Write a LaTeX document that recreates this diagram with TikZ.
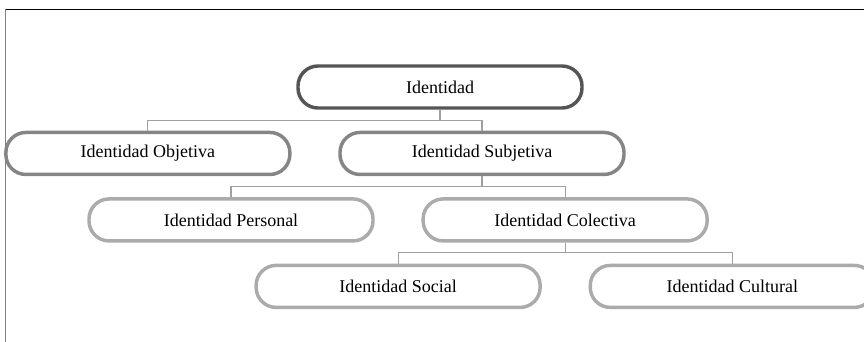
\documentclass[tikz,border=0pt]{standalone}
\usepackage{fontspec}
\setmainfont{Liberation Serif}
\usepackage{xcolor}
\usepackage{tikz}
\usetikzlibrary{positioning, calc}
\definecolor{rootgray}{HTML}{555555}
\definecolor{midgray}{HTML}{858585}
\definecolor{leafgray}{HTML}{ABABAB}
\definecolor{linkgray}{HTML}{A0A0A0}
\tikzstyle{idbox} = [rectangle, rounded corners=15pt, minimum width=213pt, minimum height=31.5pt, text centered, line width=2.6pt, fill=white, font=\fontsize{13.5}{16}\selectfont]
\tikzstyle{rootbox} = [idbox, draw=rootgray]
\tikzstyle{midbox} = [idbox, draw=midgray]
\tikzstyle{leafbox} = [idbox, draw=leafgray]
\tikzstyle{link} = [draw=linkgray, line width=0.8pt]

\begin{document}
\begin{tikzpicture}[node distance=15.75pt and 35pt]
\useasboundingbox (0,0) rectangle (648pt,-256.5pt);

% Frame
\draw [black, line width=1.1pt] (4pt,-7.1pt) -- (648pt,-7.1pt);
\draw [gray, line width=1.1pt] (4.1pt,-6.6pt) -- (4.1pt,-256.5pt);

% Root
\node (identidad) [rootbox] at (330pt,-65.25pt) {Identidad};

% Second level
\node (subjetiva) [midbox, below=of identidad, xshift=31.5pt] {Identidad Subjetiva};
\node (objetiva) [midbox, left=of subjetiva] {Identidad Objetiva};

% Third level
\node (personal) [leafbox, below=of subjetiva, xshift=-188.25pt] {Identidad Personal};
\node (colectiva) [leafbox, right=of personal] {Identidad Colectiva};

% Fourth level
\node (social) [leafbox, below=of colectiva, xshift=-125.25pt] {Identidad Social};
\node (cultural) [leafbox, right=of social] {Identidad Cultural};

% Connectors
\draw [link] (identidad.south) -- ++(0,-8pt) -| (objetiva.north);
\draw [link] (identidad.south) -- ++(0,-8pt) -| (subjetiva.north);
\draw [link] (subjetiva.south) -- ++(0,-8pt) -| (personal.north);
\draw [link] (subjetiva.south) -- ++(0,-8pt) -| (colectiva.north);
\draw [link] (colectiva.south) -- ++(0,-7.5pt) -| (social.north);
\draw [link] (colectiva.south) -- ++(0,-7.5pt) -| (cultural.north);

\end{tikzpicture}
\end{document}
